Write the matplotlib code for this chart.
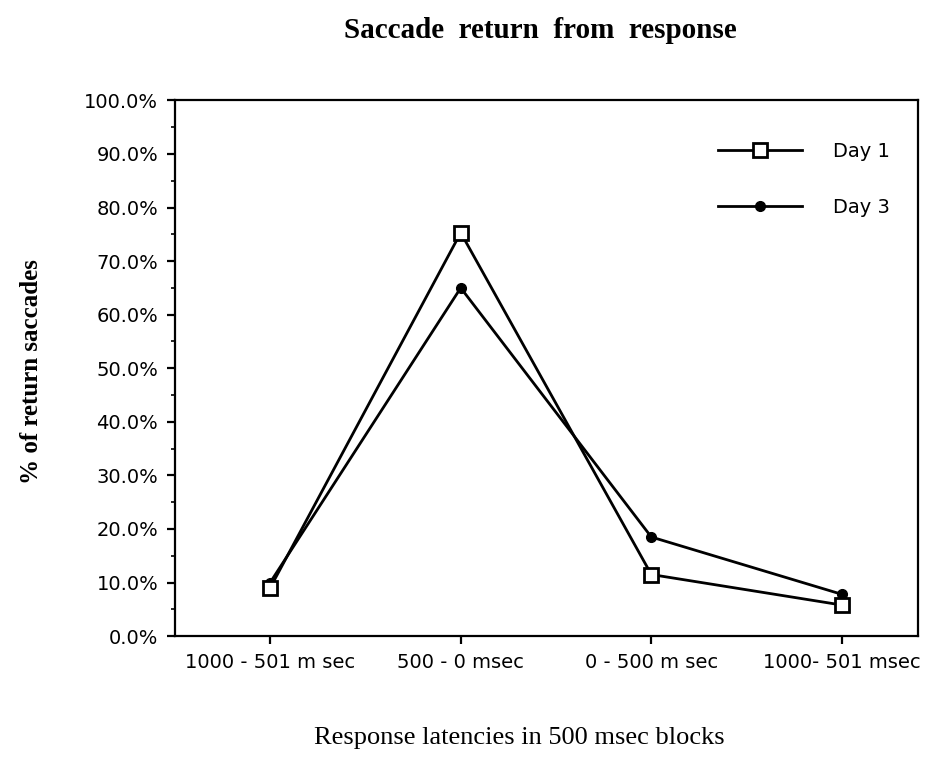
import matplotlib.pyplot as plt
from matplotlib.ticker import MultipleLocator, FuncFormatter

categories = ["1000 - 501 m sec", "500 - 0 msec", "0 - 500 m sec", "1000- 501 msec"]
day1 = [9.0, 75.3, 11.5, 5.8]
day3 = [10.0, 65.0, 18.5, 7.8]

fig = plt.figure(figsize=(9.35, 7.72), dpi=100)
ax = fig.add_axes([0.187, 0.176, 0.795, 0.694])

x = range(len(categories))
ax.plot(x, day1, "-s", color="black", lw=2, markersize=10,
        markerfacecolor="white", markeredgewidth=2, label="Day 1", zorder=3)
ax.plot(x, day3, "-o", color="black", lw=2, markersize=7, label="Day 3", zorder=2)

ax.set_xlim(-0.5, 3.4)
ax.set_ylim(0, 100)
ax.set_xticks(list(x))
ax.set_xticklabels(categories)
ax.yaxis.set_major_locator(MultipleLocator(10))
ax.yaxis.set_minor_locator(MultipleLocator(5))
ax.yaxis.set_major_formatter(FuncFormatter(lambda v, p: "%.1f%%" % v))

for s in ax.spines.values():
    s.set_linewidth(1.6)
ax.tick_params(axis="both", which="major", direction="out", length=6, width=1.6,
               labelsize=14, pad=6)
ax.tick_params(axis="y", which="minor", direction="out", length=3, width=1.2)
for lab in ax.get_xticklabels() + ax.get_yticklabels():
    lab.set_family("DejaVu Sans")

fig.text(0.578, 1 - 30 / 772, "Saccade  return  from  response", fontsize=21,
         fontweight="bold", family="Liberation Serif", ha="center", va="center")
fig.text(32 / 935, 1 - 372 / 772, "% of return saccades", fontsize=18,
         fontweight="bold", family="Liberation Serif", rotation=90,
         ha="center", va="center")
fig.text(0.555, 1 - 738 / 772, "Response latencies in 500 msec blocks", fontsize=19,
         family="Liberation Serif", ha="center", va="center")

ax.legend(loc="upper right", bbox_to_anchor=(0.985, 0.955), frameon=False,
          handlelength=4.3, labelspacing=1.9, handletextpad=1.6, fontsize=14)

fig.savefig("out.png", dpi=100)
